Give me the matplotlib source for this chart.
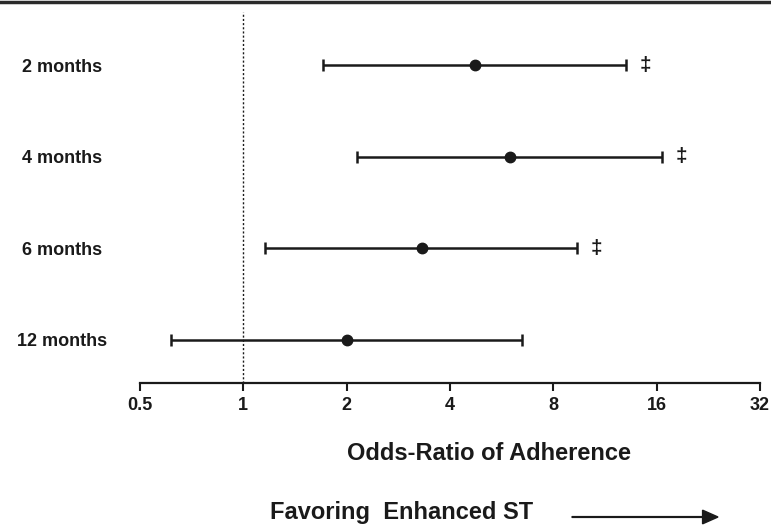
import matplotlib
matplotlib.use("Agg")
import matplotlib.pyplot as plt
from matplotlib.lines import Line2D

plt.rcParams["font.family"] = ["Liberation Sans", "DejaVu Sans"]

labels = ["2 months", "4 months", "6 months", "12 months"]
odds = [4.73, 5.98, 3.31, 2.01]
ci_low = [1.71, 2.15, 1.16, 0.614]
ci_high = [13.0, 16.6, 9.36, 6.50]
signif = [True, True, True, False]
xticks = [0.5, 1, 2, 4, 8, 16, 32]
xticklabels = ["0.5", "1", "2", "4", "8", "16", "32"]

ypos = [4, 3, 2, 1]

fig = plt.figure(figsize=(7.71, 5.25), dpi=100)
ax = fig.add_axes([140 / 771, 1 - 383 / 525, 620 / 771, 371 / 525])

err = [[o - l for o, l in zip(odds, ci_low)], [h - o for o, h in zip(odds, ci_high)]]
ax.errorbar(odds, ypos, xerr=err, fmt="o", color="#1a1a1a", ms=7.5,
            elinewidth=1.8, capsize=4, capthick=1.8, zorder=3)
for h, y, s in zip(ci_high, ypos, signif):
    if s:
        ax.annotate("\u2021", (h, y), xytext=(14, 0), textcoords="offset points",
                    ha="center", va="center", fontsize=15, fontweight="bold",
                    color="#1a1a1a")

ax.axvline(1, color="#1a1a1a", ls=(0, (1.5, 1.5)), lw=1, zorder=1)

ax.set_xscale("log", base=2)
ax.set_xlim(0.5, 32)
ax.set_ylim(0.53, 4.58)
ax.set_xticks(xticks)
ax.set_xticklabels(xticklabels)
ax.xaxis.set_minor_locator(matplotlib.ticker.NullLocator())
ax.set_yticks(ypos)
ax.set_yticklabels(labels)
for t in ax.get_yticklabels():
    t.set_horizontalalignment("center")
ax.tick_params(axis="y", length=0, pad=56, labelsize=13)
ax.tick_params(axis="x", direction="out", length=6, width=1.5, labelsize=13,
               color="#1a1a1a", pad=4)
for t in ax.get_xticklabels() + ax.get_yticklabels():
    t.set_fontweight("bold")
    t.set_color("#1a1a1a")

for s in ["left", "top", "right"]:
    ax.spines[s].set_visible(False)
ax.spines["bottom"].set_linewidth(1.6)
ax.spines["bottom"].set_color("#1a1a1a")

fig.text(489 / 771, 1 - 453 / 525, "Odds-Ratio of Adherence", ha="center",
         va="center", fontsize=17, fontweight="bold", color="#1a1a1a")
fig.text(402 / 771, 1 - 513 / 525, "Favoring  Enhanced ST", ha="center",
         va="center", fontsize=17, fontweight="bold", color="#1a1a1a")
fig.patches.append(matplotlib.patches.FancyArrow(
    572 / 771, 1 - 517 / 525, 146 / 771, 0, width=0.0015, head_width=0.026,
    head_length=0.02, length_includes_head=True, color="#1a1a1a",
    transform=fig.transFigure, figure=fig))

fig.lines.append(Line2D([0, 1], [1 - 1.5 / 525, 1 - 1.5 / 525], color="#2a2a2a",
                        lw=2.5, transform=fig.transFigure, figure=fig))

fig.savefig("out.png", dpi=100)
